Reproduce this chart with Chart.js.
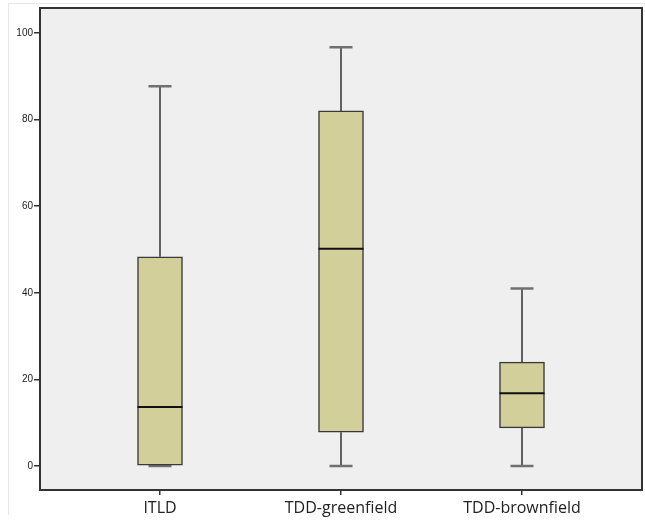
<!DOCTYPE html>
<html>
<head>
<meta charset="utf-8">
<script src="https://cdn.jsdelivr.net/npm/chart.js@4/dist/chart.umd.min.js"></script>
<style>
  html, body { margin: 0; padding: 0; background: #fff; }
  #wrap { position: relative; width: 645px; height: 523px; }
  #frame { position: absolute; left: 8px; top: 3px; right: 0; bottom: 8px;
           border-left: 1px solid #e6e6e6; border-top: 1px solid #e6e6e6; }
</style>
</head>
<body>
<div id="wrap">
  <div id="frame"></div>
  <canvas id="chart"></canvas>
</div>
<script>
// Box plot values
const categories = ['ITLD', 'TDD-greenfield', 'TDD-brownfield'];
const whiskerLow = [0, 0, 0];
const quartile1 = [0, 7.8, 8.8];
const medians = [13.6, 50.2, 16.8];
const quartile3 = [48.3, 82.0, 24.0];
const whiskerHigh = [87.7, 96.7, 41.0];
const yTicks = [0, 20, 40, 60, 80, 100];

// Whiskers below the boxes, medians and frame on top
const boxPlotPlugin = {
    id: 'boxPlot',
    beforeDraw(chart) {
        const { ctx, chartArea: a } = chart;
        ctx.save();
        ctx.fillStyle = '#efefef';
        ctx.fillRect(a.left, a.top, a.right - a.left, a.bottom - a.top);
        ctx.restore();
    },
    beforeDatasetsDraw(chart) {
        const { ctx, scales: { x, y } } = chart;
        ctx.save();
        categories.forEach((c, i) => {
            const px = x.getPixelForValue(i + 1);
            // vertical whisker lines
            ctx.strokeStyle = '#333';
            ctx.lineWidth = 1.5;
            ctx.beginPath();
            ctx.moveTo(px, y.getPixelForValue(whiskerLow[i]));
            ctx.lineTo(px, y.getPixelForValue(quartile1[i]));
            ctx.moveTo(px, y.getPixelForValue(quartile3[i]));
            ctx.lineTo(px, y.getPixelForValue(whiskerHigh[i]));
            ctx.stroke();
            // caps
            ctx.strokeStyle = '#707070';
            ctx.lineWidth = 2.5;
            ctx.beginPath();
            [whiskerLow[i], whiskerHigh[i]].forEach(v => {
                const py = y.getPixelForValue(v);
                ctx.moveTo(px - 11.5, py);
                ctx.lineTo(px + 11.5, py);
            });
            ctx.stroke();
        });
        ctx.restore();
    },
    afterDatasetsDraw(chart) {
        const { ctx, chartArea: a, scales: { x, y } } = chart;
        ctx.save();
        ctx.strokeStyle = '#111';
        ctx.lineWidth = 2;
        categories.forEach((c, i) => {
            const px = x.getPixelForValue(i + 1);
            const py = y.getPixelForValue(medians[i]);
            ctx.beginPath();
            ctx.moveTo(px - 22.5, py);
            ctx.lineTo(px + 22.5, py);
            ctx.stroke();
        });
        // plot frame
        ctx.strokeStyle = '#333';
        ctx.lineWidth = 2;
        ctx.strokeRect(a.left, a.top, a.right - a.left, a.bottom - a.top);
        ctx.restore();
    }
};

new Chart(document.getElementById('chart'), {
    type: 'bar',
    data: {
        datasets: [{
            data: categories.map((c, i) => ({ x: i + 1, y: [quartile1[i], quartile3[i]] })),
            backgroundColor: '#d3cf9b',
            borderColor: '#3a3a3a',
            borderWidth: 1.5,
            borderSkipped: false,
            barThickness: 45
        }]
    },
    options: {
        responsive: true,
        maintainAspectRatio: false,
        animation: false,
        layout: { padding: { top: 8, right: 3, left: 0, bottom: 0 } },
        plugins: { legend: { display: false }, tooltip: { enabled: false } },
        scales: {
            x: {
                type: 'linear',
                offset: false,
                min: 0.337,
                max: 3.663,
                afterBuildTicks: s => { s.ticks = categories.map((c, i) => ({ value: i + 1 })); },
                afterFit: s => { s.height = 33; },
                grid: { offset: false, drawOnChartArea: false, drawTicks: true, tickLength: 5, color: '#333', lineWidth: 1.5 },
                border: { display: false },
                ticks: {
                    autoSkip: false,
                    maxRotation: 0,
                    padding: 4,
                    color: '#222',
                    font: { family: '"Open Sans", sans-serif', size: 16 },
                    callback: v => categories[v - 1]
                }
            },
            y: {
                min: -5.54,
                max: 105.77,
                afterBuildTicks: s => { s.ticks = yTicks.map(v => ({ value: v })); },
                afterFit: s => { s.width = 40; },
                grid: { drawOnChartArea: false, drawTicks: true, tickLength: 6, color: '#333', lineWidth: 1.5 },
                border: { display: false },
                ticks: {
                    padding: 1,
                    color: '#222',
                    font: { family: '"Liberation Sans", Arial, sans-serif', size: 10 }
                }
            }
        }
    },
    plugins: [boxPlotPlugin]
});
</script>
</body>
</html>
